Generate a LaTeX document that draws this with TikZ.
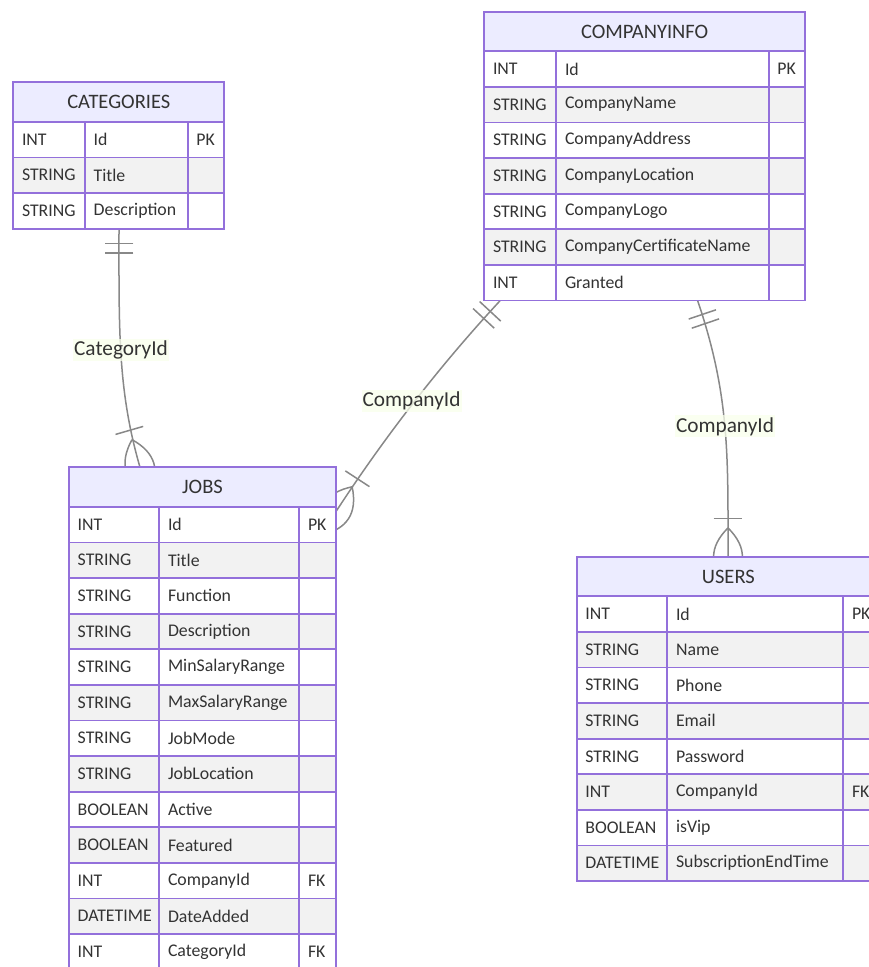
\documentclass[tikz,border=0pt]{standalone}
\usepackage{fontspec}
\setmainfont{Carlito}
\usetikzlibrary{calc}
\definecolor{erpurple}{HTML}{9370DB}
\definecolor{erhead}{HTML}{ECECFF}
\definecolor{eralt}{HTML}{F2F2F2}
\definecolor{ertext}{HTML}{333333}
\definecolor{erline}{HTML}{888888}
\definecolor{erlabel}{RGB}{249,255,236}
\pgfdeclarelayer{back}
\pgfdeclarelayer{bg}
\pgfsetlayers{back,bg,main}
\tikzset{
  cellbox/.style={draw=erpurple, line width=1.8pt},
  celltext/.style={anchor=west, inner sep=0pt, text=ertext, font=\fontsize{17.8}{21}\selectfont},
  headtext/.style={inner sep=0pt, text=ertext, font=\fontsize{20.5}{24}\selectfont},
  conn/.style={draw=erline, line width=1.5pt},
  rellabel/.style={fill=erlabel, fill opacity=0.75, text opacity=1, text=ertext, inner xsep=1pt, inner ysep=0pt, minimum height=22pt, font=\fontsize{21.3}{25}\selectfont},
  tablebox/.style={inner sep=0pt, anchor=north west}
}
% #1 name, #2..#5 column edges, #6 top, #7 rows, #8 title, #9 rows list
\newcommand\ertable[9]{%
  \pgfmathsetmacro\erw{#5-#2}%
  \pgfmathsetmacro\erh{39.5+#7*35.6}%
  \node[tablebox, minimum width=\erw pt, minimum height=\erh pt] (#1) at (#2,#6) {};
  \draw[cellbox, fill=erhead] (#2,#6) rectangle (#5,#6+39.5);
  \node[headtext] (#1-title) at ({(#2+#5)/2},{#6+20}) {#8};
  \foreach \ta/\tb/\tc [count=\i] in {#9} {
    \pgfmathsetmacro\ya{#6+39.5+(\i-1)*35.6}
    \pgfmathsetmacro\yb{\ya+35.6}
    \pgfmathsetmacro\ym{\ya+17.8}
    \ifodd\i\relax\def\rowfill{white}\else\def\rowfill{eralt}\fi
    \draw[cellbox, fill=\rowfill] (#2,\ya) rectangle (#3,\yb);
    \draw[cellbox, fill=\rowfill] (#3,\ya) rectangle (#4,\yb);
    \draw[cellbox, fill=\rowfill] (#4,\ya) rectangle (#5,\yb);
    \node[celltext] (#1-\i-a) at (#2+8.5,\ym) {\ta};
    \node[celltext] (#1-\i-b) at (#3+8.5,\ym) {\tb};
    \node[celltext] (#1-\i-c) at (#4+8.5,\ym) {\tc};
  }
}
\newcommand\markone[2]{%
  \draw[conn] ($(#1)!20.36pt!45:(#2)$) -- ($(#1)!20.36pt!315:(#2)$);
  \draw[conn] ($(#1)!27.99pt!30.96:(#2)$) -- ($(#1)!27.99pt!329.04:(#2)$);
}
\newcommand\markmany[2]{%
  \draw[conn] ($(#1)!41.01pt!20.56:(#2)$) -- ($(#1)!41.01pt!339.44:(#2)$);
  \draw[conn] ($(#1)!28.8pt!(#2)$) .. controls ($(#1)!21.47pt!63.43:(#2)$) and ($(#1)!21.47pt!116.57:(#2)$) .. ($(#1)!28.8pt!180:(#2)$) .. controls ($(#1)!21.47pt!243.43:(#2)$) and ($(#1)!21.47pt!296.57:(#2)$) .. ($(#1)!28.8pt!(#2)$);
}
\begin{document}
\begin{tikzpicture}[x=1pt, y=-1pt]
\useasboundingbox (0,0) rectangle (868,967);
\begin{pgfonlayer}{back}
\fill[white] (0,0) rectangle (868,967);
\end{pgfonlayer}

\ertable{cat}{13.3}{85}{187.7}{224.3}{82.3}{3}{CATEGORIES}{INT/Id/PK, STRING/Title/{}, STRING/Description/{}}
\ertable{comp}{484.3}{556.3}{768.7}{805}{11.7}{7}{COMPANYINFO}{INT/Id/PK, STRING/CompanyName/{}, STRING/CompanyAddress/{}, STRING/CompanyLocation/{}, STRING/CompanyLogo/{}, STRING/CompanyCertificateName/{}, INT/Granted/{}}
\ertable{jobs}{69}{159.3}{299.3}{336}{467.3}{13}{JOBS}{INT/Id/PK, STRING/Title/{}, STRING/Function/{}, STRING/Description/{}, STRING/MinSalaryRange/{}, STRING/MaxSalaryRange/{}, STRING/JobMode/{}, STRING/JobLocation/{}, BOOLEAN/Active/{}, BOOLEAN/Featured/{}, INT/CompanyId/FK, DATETIME/DateAdded/{}, INT/CategoryId/FK}
\ertable{users}{576.7}{667.3}{843.3}{880}{556.7}{8}{USERS}{INT/Id/PK, STRING/Name/{}, STRING/Phone/{}, STRING/Email/{}, STRING/Password/{}, INT/CompanyId/FK, BOOLEAN/isVip/{}, DATETIME/SubscriptionEndTime/{}}

\coordinate (c1s) at (cat.south);
\coordinate (c1e) at ($(jobs.north west)+(71,0)$);
\coordinate (c1a) at (119,329.5);
\coordinate (c1b) at (117.6,389.9);
\coordinate (c2s) at ($(comp.south west)+(15.7,0)$);
\coordinate (c2e) at ($(jobs.north east)+(0,43.6)$);
\coordinate (c2a) at (440.2,365.2);
\coordinate (c2b) at (384.6,437);
\coordinate (c3s) at ($(comp.south west)+(213.4,0)$);
\coordinate (c3e) at ($(users.north west)+(151.3,0)$);
\coordinate (c3a) at (729.9,395.7);
\coordinate (c3b) at (728,456.7);

\begin{pgfonlayer}{bg}
  \draw[conn] (c1s) .. controls (c1a) and (c1b) .. (c1e);
  \markone{c1s}{c1a}
  \markmany{c1e}{c1b}
  \draw[conn] (c2s) .. controls (c2a) and (c2b) .. (c2e);
  \markone{c2s}{c2a}
  \markmany{c2e}{c2b}
  \draw[conn] (c3s) .. controls (c3a) and (c3b) .. (c3e);
  \markone{c3s}{c3a}
  \markmany{c3e}{c3b}
\end{pgfonlayer}

\node[rellabel] (l1) at (121,349.8) {CategoryId};
\node[rellabel] (l2) at (411.5,401.2) {CompanyId};
\node[rellabel] (l3) at (725,426.4) {CompanyId};
\end{tikzpicture}
\end{document}
